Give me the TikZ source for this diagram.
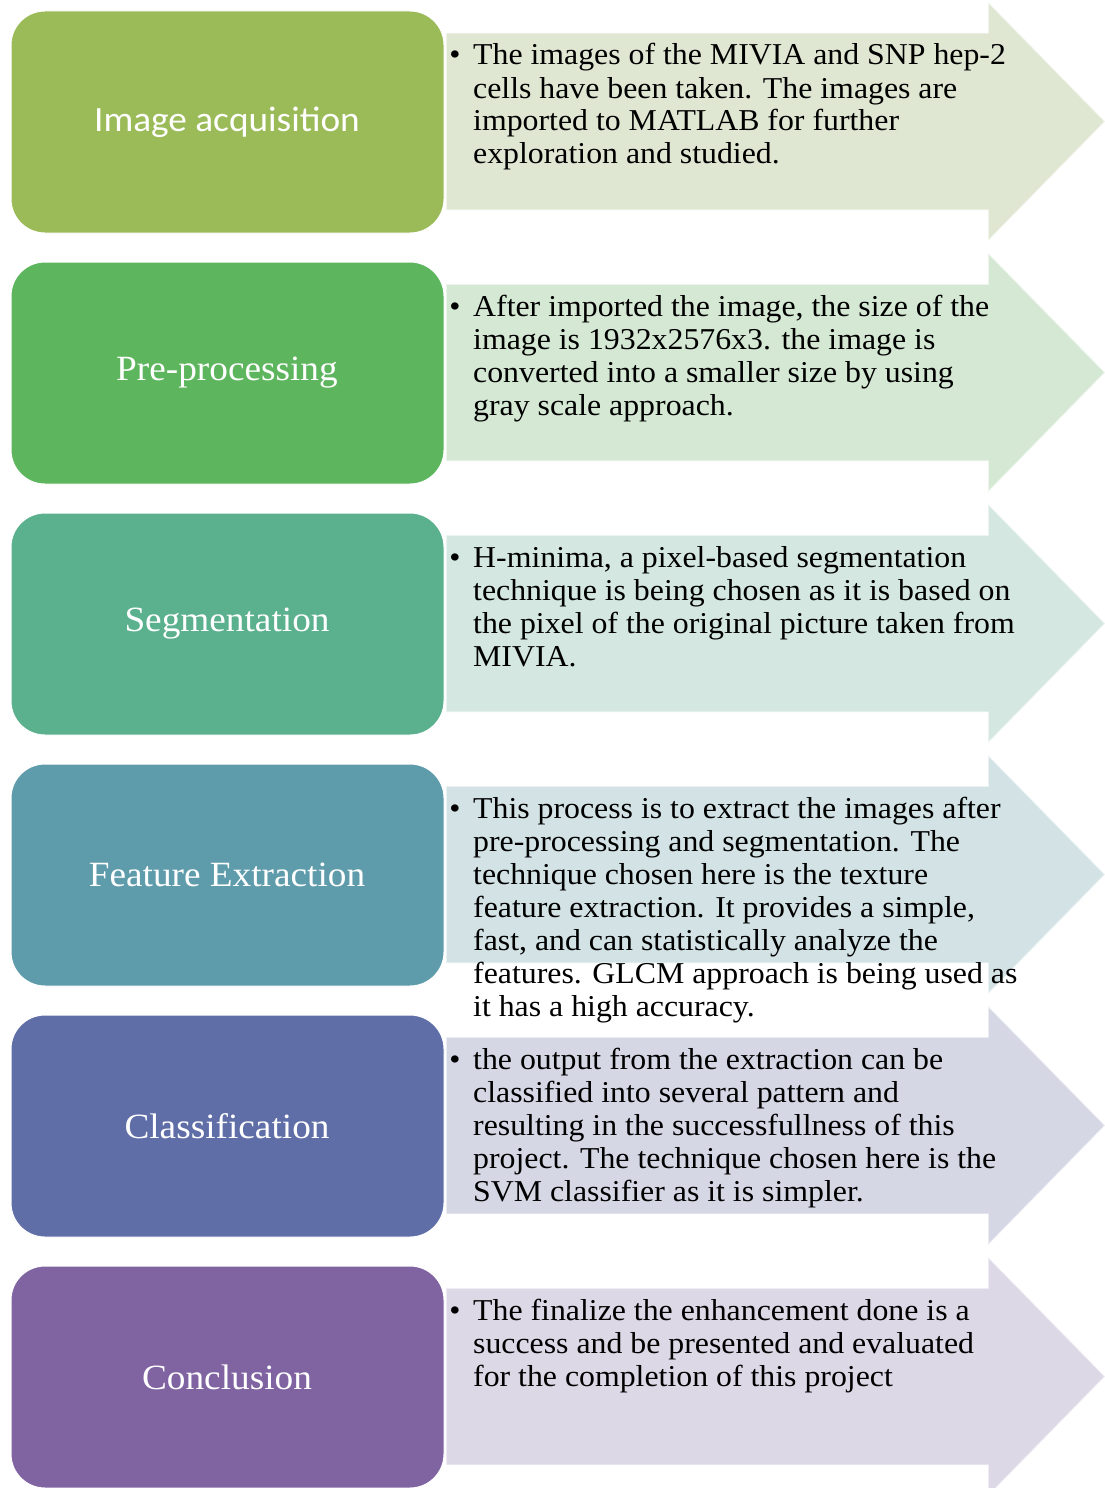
\documentclass[tikz,border=0pt]{standalone}
\usepackage{fontspec}
\setmainfont{Liberation Serif}
\newfontfamily\notefont[FakeStretch=1.05]{Liberation Serif}
\newfontfamily\labelfont[FakeStretch=1.05]{Liberation Serif}
\newfontfamily\calibri[FakeStretch=1.05]{Carlito}
\begin{document}
\begin{tikzpicture}[x=1pt,y=-1pt,
  stagebox/.style={fill=#1,draw=white,line width=1pt,rounded corners=34pt},
  notearrow/.style={fill=#1,draw=white,draw opacity=0.55,line width=1.5pt},
  stagelabel/.style={text=white,font=\labelfont\fontsize{35.5}{40}\selectfont,inner sep=0pt},
  bulletmark/.style={anchor=base,inner sep=0pt,font=\notefont\fontsize{30.3}{33}\selectfont},
  notetext/.style={anchor=base west,inner sep=0pt,font=\notefont\fontsize{30.3}{33}\selectfont}]
\useasboundingbox (0,0) rectangle (1105,1488);
\fill[white] (0,0) rectangle (1105,1488);

% colour pairs: stage box / note arrow
\definecolor{boxA}{HTML}{9BBB59}\definecolor{arrA}{HTML}{DFE7D3}
\definecolor{boxB}{HTML}{5DB65E}\definecolor{arrB}{HTML}{D5E8D4}
\definecolor{boxC}{HTML}{5BB08E}\definecolor{arrC}{HTML}{D4E7E0}
\definecolor{boxD}{HTML}{5F9CAB}\definecolor{arrD}{HTML}{D3E3E5}
\definecolor{boxE}{HTML}{606EA8}\definecolor{arrE}{HTML}{D5D7E5}
\definecolor{boxF}{HTML}{8064A2}\definecolor{arrF}{HTML}{DDD8E6}

% arrows and stage boxes, one row every 251 units
\foreach \k/\b/\a in {0/boxA/arrA,1/boxB/arrB,2/boxC/arrC,3/boxD/arrD,4/boxE/arrE,5/boxF/arrF}{
  \pgfmathsetmacro{\o}{251*\k}
  \draw[notearrow=\a] (446,33+\o) -- (988,33+\o) -- (988,2+\o) -- (1105,121.5+\o)
        -- (988,241+\o) -- (988,210+\o) -- (446,210+\o) -- cycle;
  \draw[stagebox=\b] (11,11+\o) rectangle (444,233+\o);
}

% stage names
\node[stagelabel,font=\calibri\fontsize{35.5}{40}\selectfont] (s1) at (227,122) {Image acquisition};
\node[stagelabel] (s2) at (227,373) {Pre-processing};
\node[stagelabel] (s3) at (227,624) {Segmentation};
\node[stagelabel] (s4) at (227,875) {Feature Extraction};
\node[stagelabel] (s5) at (227,1126) {Classification};
\node[stagelabel] (s6) at (227,1377) {Conclusion};

% bullets
\foreach \k in {0,...,5}{
  \node[bulletmark] (b\k) at (455,65+251*\k) {\textbullet};
}

% notes
\node[notetext] (n1) at (473,65) {\parbox[t]{640pt}{\raggedright
  The images of the MIVIA and SNP hep-2\\
  cells have been taken. The images are\\
  imported to MATLAB for further\\
  exploration and studied.}};
\node[notetext] (n2) at (473,316) {\parbox[t]{640pt}{\raggedright
  After imported the image, the size of the\\
  image is 1932x2576x3. the image is\\
  converted into a smaller size by using\\
  gray scale approach.}};
\node[notetext] (n3) at (473,567) {\parbox[t]{640pt}{\raggedright
  H-minima, a pixel-based segmentation\\
  technique is being chosen as it is based on\\
  the pixel of the original picture taken from\\
  MIVIA.}};
\node[notetext] (n4) at (473,818) {\parbox[t]{640pt}{\raggedright
  This process is to extract the images after\\
  pre-processing and segmentation. The\\
  technique chosen here is the texture\\
  feature extraction. It provides a simple,\\
  fast, and can statistically analyze the\\
  features. GLCM approach is being used as\\
  it has a high accuracy.}};
\node[notetext] (n5) at (473,1069) {\parbox[t]{640pt}{\raggedright
  the output from the extraction can be\\
  classified into several pattern and\\
  resulting in the successfullness of this\\
  project. The technique chosen here is the\\
  SVM classifier as it is simpler.}};
\node[notetext] (n6) at (473,1320) {\parbox[t]{640pt}{\raggedright
  The finalize the enhancement done is a\\
  success and be presented and evaluated\\
  for the completion of this project}};
\end{tikzpicture}
\end{document}
